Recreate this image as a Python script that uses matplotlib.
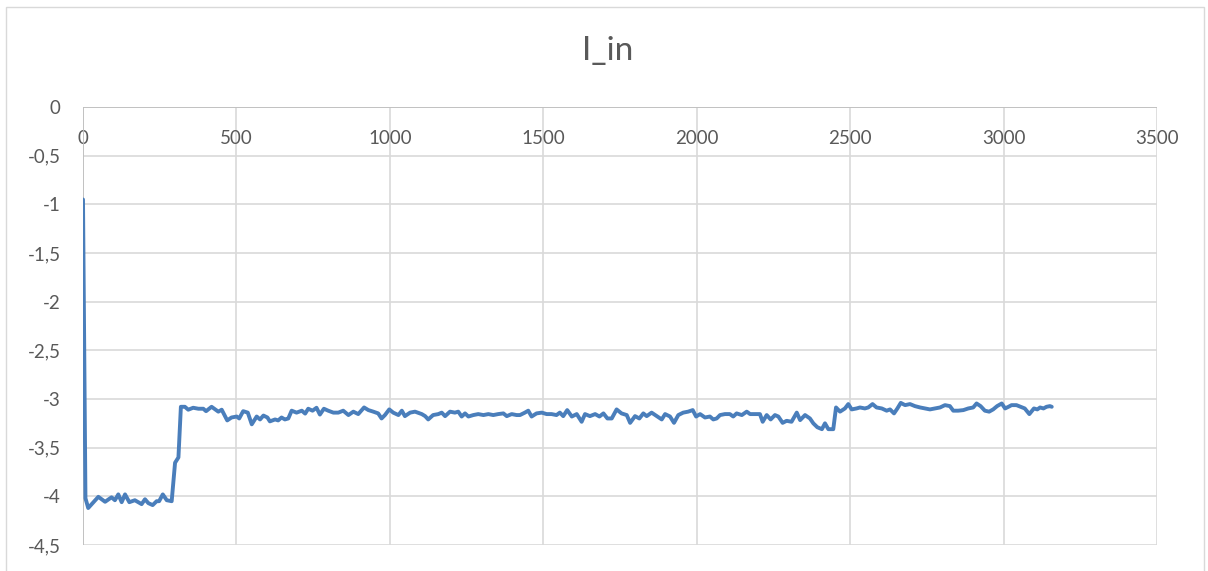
import matplotlib
matplotlib.use("Agg")
import matplotlib.pyplot as plt
from matplotlib.patches import Rectangle

# Measured input current I_in over time steps
t = [0, 8, 17, 50, 72, 93, 104, 115, 126, 137, 151, 169, 191, 202, 213, 227, 240, 248,
     260, 273, 289, 300, 311, 319, 332, 343, 359, 376, 392, 401, 419, 441, 452, 470,
     484, 501, 509, 522, 537, 550, 566, 577, 588, 601, 609, 626, 636, 647, 658, 669,
     680, 696, 713, 724, 734, 748, 761, 772, 785, 799, 816, 832,
     848, 865, 881, 897, 916, 930, 946, 962, 973, 984, 998, 1011, 1028, 1039, 1049,
     1066, 1082, 1104, 1115, 1125, 1141, 1158, 1169, 1180, 1196, 1212, 1223, 1234,
     1245, 1256, 1272, 1288, 1305, 1321, 1337, 1353, 1370, 1381, 1397, 1413,
     1424, 1440, 1451, 1462, 1478, 1495, 1511, 1527, 1543, 1554, 1565, 1578, 1593,
     1609, 1625, 1636, 1652, 1669, 1683, 1696, 1709, 1723, 1739, 1755, 1772, 1783,
     1799, 1813, 1826, 1837, 1853, 1870, 1886, 1897, 1913, 1926, 1940, 1956,
     1972, 1987, 1998, 2011, 2027, 2043, 2054, 2065, 2076, 2092, 2108, 2119, 2130,
     2147, 2163, 2174, 2190, 2206, 2215, 2228, 2241, 2255, 2266, 2280, 2293, 2309,
     2326, 2337, 2353, 2369, 2380, 2393, 2408, 2418, 2429, 2445, 2454, 2467, 2483,
     2494, 2505, 2521,
     2532, 2548, 2559, 2573, 2586, 2603, 2619, 2630, 2643, 2654, 2665, 2679, 2695,
     2711, 2728, 2744, 2760, 2776, 2793, 2809, 2825, 2836, 2852, 2869, 2885, 2901,
     2912, 2925, 2939, 2953, 2966, 2979,
     2994, 3005, 3016, 3026, 3042, 3056, 3069, 3084, 3099, 3110, 3119, 3130, 3140,
     3151, 3157]

i_in = [-0.95, -4.02, -4.12, -4.005, -4.056, -4.01, -4.04, -3.98, -4.06, -3.98, -4.06,
        -4.04, -4.08, -4.03, -4.07, -4.09, -4.05, -4.05, -3.98, -4.04, -4.05, -3.655,
        -3.60, -3.08, -3.08, -3.11, -3.09, -3.10, -3.10, -3.125, -3.08, -3.13, -3.11,
        -3.22, -3.19, -3.18, -3.20, -3.125, -3.14, -3.26, -3.18, -3.21, -3.17, -3.19,
        -3.23, -3.21, -3.22, -3.19, -3.21, -3.20, -3.12, -3.14, -3.12, -3.15, -3.10,
        -3.12, -3.09, -3.16, -3.10, -3.12, -3.14, -3.14,
        -3.12, -3.165, -3.13, -3.155, -3.087, -3.114, -3.13, -3.148, -3.20, -3.165,
        -3.107, -3.14, -3.165, -3.12, -3.176, -3.14, -3.13, -3.155, -3.176, -3.21,
        -3.165, -3.155, -3.14, -3.176, -3.13, -3.14, -3.13, -3.18, -3.148, -3.18,
        -3.165, -3.155, -3.165, -3.155, -3.165, -3.155, -3.148, -3.176, -3.155, -3.165,
        -3.165, -3.14, -3.12, -3.18, -3.148, -3.14, -3.155, -3.155, -3.165, -3.14,
        -3.176, -3.114, -3.18, -3.155, -3.234, -3.155, -3.176, -3.155, -3.18, -3.148,
        -3.20, -3.20, -3.107, -3.148, -3.165, -3.245, -3.176, -3.20, -3.148, -3.176,
        -3.14, -3.176, -3.21, -3.155, -3.18, -3.245, -3.165, -3.14,
        -3.13, -3.114, -3.18, -3.155, -3.19, -3.18, -3.21, -3.20, -3.165, -3.155,
        -3.155, -3.18, -3.148, -3.165, -3.13, -3.155, -3.155, -3.155, -3.234, -3.165,
        -3.21, -3.165, -3.18, -3.245, -3.224, -3.234, -3.14, -3.217, -3.165, -3.20,
        -3.25, -3.29, -3.31, -3.25, -3.31, -3.31, -3.087, -3.13, -3.097, -3.052,
        -3.107, -3.097,
        -3.087, -3.097, -3.087, -3.052, -3.087, -3.097, -3.12, -3.107, -3.148, -3.097,
        -3.04, -3.063, -3.052, -3.073, -3.087, -3.097, -3.107, -3.097, -3.087, -3.063,
        -3.073, -3.12, -3.12, -3.114, -3.097, -3.087, -3.046, -3.073, -3.12, -3.13,
        -3.107, -3.073,
        -3.046, -3.097, -3.08, -3.063, -3.063, -3.08, -3.097, -3.155, -3.097, -3.107,
        -3.087, -3.097, -3.08, -3.073, -3.08]

x_ticks = [0, 500, 1000, 1500, 2000, 2500, 3000, 3500]
y_ticks = [0, -0.5, -1, -1.5, -2, -2.5, -3, -3.5, -4, -4.5]
y_labels = ["0", "-0,5", "-1", "-1,5", "-2", "-2,5", "-3", "-3,5", "-4", "-4,5"]

TEXT = "#595959"
GRID = "#D9D9D9"
AXIS = "#BFBFBF"
LINE = "#4A7EBB"

plt.rcParams["font.family"] = ["Lato", "DejaVu Sans"]

W, H = 1208, 571
fig = plt.figure(figsize=(W / 100, H / 100), dpi=100)
fig.patch.set_facecolor("white")

# chart-area frame
fig.add_artist(Rectangle((6 / W, -0.05), (1204 - 6) / W, 1.05 - 7.5 / H,
                         transform=fig.transFigure, fill=False,
                         edgecolor=GRID, linewidth=1.0))

ax = fig.add_axes([83 / W, 1 - 545 / H, 1074 / W, 438 / H])
ax.set_xlim(0, 3500)
ax.set_ylim(-4.5, 0)

ax.set_xticks(x_ticks)
ax.set_yticks(y_ticks)
ax.set_yticklabels(y_labels)

for s in ax.spines.values():
    s.set_visible(False)

ax.grid(True, color=GRID, linewidth=1.2)
ax.set_axisbelow(True)

# axis lines crossing at the origin (top-left corner)
ax.axhline(0, color=AXIS, linewidth=1.3, zorder=1.5)
ax.axvline(0, color=AXIS, linewidth=1.3, zorder=1.5)

ax.xaxis.set_ticks_position("top")
ax.tick_params(axis="x", which="both", length=0, labeltop=True, labelbottom=False,
               pad=-28.5, labelsize=13.5, labelcolor=TEXT)
ax.tick_params(axis="y", length=0, pad=16, labelsize=13.5, labelcolor=TEXT)

ax.plot(t, i_in, color=LINE, linewidth=2.8, solid_joinstyle="round",
        solid_capstyle="round", zorder=3)

fig.text(608 / W, 1 - 51 / H, "I_in", ha="center", va="center",
         fontsize=24, color=TEXT)

fig.savefig("out.png", dpi=100)
